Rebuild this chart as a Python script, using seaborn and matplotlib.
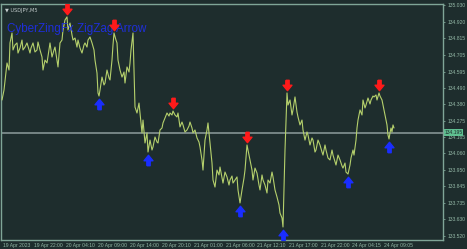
import matplotlib
matplotlib.use("Agg")
import matplotlib.pyplot as plt
from matplotlib.transforms import ScaledTranslation
import seaborn as sns
import pandas as pd

# ---- data ----
bar = [2, 4, 7, 9, 10, 12, 13, 15, 17, 18, 20, 22, 23, 25, 27, 30, 31, 33, 35, 37, 38, 40, 42, 43, 45, 47, 49, 50,
       52, 54, 55, 57, 58, 60, 62, 63, 65, 67, 68, 70, 72, 73, 75, 77, 78, 80, 82, 84, 85, 87, 88, 90, 92, 94, 95,
       97, 98, 99, 100, 102, 104, 105, 107, 109, 110, 112, 113, 114, 116, 117, 118, 120, 122, 124, 125, 127, 129,
       130, 131, 133, 134, 135, 137, 139, 140, 142, 143, 145, 147, 148, 150, 152, 153, 155, 157, 158, 160, 162,
       163, 165, 167, 169, 170, 172, 173, 175, 177, 178, 180, 182, 183, 185, 187, 189, 190, 192, 193, 195, 197,
       199, 200, 202, 203, 204, 205, 207, 208, 210, 212, 213, 215, 217, 219, 220, 222, 223, 225, 227, 229, 230,
       232, 233, 235, 237, 238, 240, 242, 244, 245, 247, 249, 250, 252, 253, 255, 257, 259, 260, 262, 263, 265,
       267, 268, 270, 272, 273, 275, 277, 279, 280, 282, 283, 285, 287, 288, 290, 292, 293, 295, 297, 298, 300,
       302, 303, 305, 307, 308, 310, 312, 313, 315, 316, 318, 320, 322, 323, 325, 326, 328, 330, 332, 333, 335,
       336, 338, 340, 342, 343, 345, 346, 348, 350, 351, 353, 354, 356, 357, 358, 360, 362, 363, 365, 366, 368,
       370, 371, 373, 374, 376, 377, 379, 380, 382, 383, 385, 386, 387, 388, 389, 390, 391, 392, 393, 394]
price = [134.409, 134.474, 134.651, 134.605, 134.782, 134.847, 134.736, 134.769, 134.782, 134.716, 134.749,
         134.801, 134.736, 134.755, 134.782, 134.716, 134.749, 134.782, 134.723, 134.736, 134.788, 134.736,
         134.690, 134.605, 134.670, 134.651, 134.736, 134.782, 134.690, 134.736, 134.755, 134.670, 134.625,
         134.782, 134.801, 134.867, 134.932, 134.952, 134.867, 134.912, 134.834, 134.801, 134.814, 134.755,
         134.801, 134.749, 134.716, 134.769, 134.782, 134.755, 134.801, 134.821, 134.782, 134.736, 134.670,
         134.585, 134.455, 134.435, 134.474, 134.559, 134.507, 134.520, 134.605, 134.553, 134.540, 134.670,
         134.769, 134.847, 134.801, 134.782, 134.670, 134.605, 134.559, 134.592, 134.520, 134.625, 134.592,
         134.651, 134.736, 134.847, 134.605, 134.363, 134.324, 134.389, 134.324, 134.194, 134.278, 134.128,
         134.194, 134.069, 134.147, 134.082, 134.102, 134.167, 134.134, 134.128, 134.213, 134.226, 134.259,
         134.291, 134.324, 134.304, 134.324, 134.311, 134.337, 134.311, 134.298, 134.324, 134.233, 134.265,
         134.246, 134.200, 134.213, 134.239, 134.265, 134.226, 134.194, 134.213, 134.161, 134.134, 134.102,
         134.017, 133.951, 134.049, 134.147, 134.213, 134.259, 134.128, 133.997, 133.886, 133.840, 133.951,
         133.919, 133.971, 133.899, 133.866, 133.938, 133.906, 133.853, 133.886, 133.912, 133.866, 133.886,
         133.906, 133.821, 133.736, 133.821, 133.899, 133.951, 134.115, 134.049, 134.017, 133.951, 133.886,
         133.964, 133.931, 133.853, 133.821, 133.919, 133.886, 133.853, 133.801, 133.886, 133.866, 133.938,
         133.906, 133.821, 133.775, 133.723, 133.670, 133.638, 133.579, 134.082, 134.455, 134.376, 134.409,
         134.311, 134.344, 134.429, 134.330, 134.298, 134.246, 134.278, 134.213, 134.147, 134.200, 134.180,
         134.115, 134.161, 134.147, 134.069, 134.082, 134.147, 134.115, 134.069, 134.049, 134.115, 134.082,
         134.030, 134.017, 134.082, 134.049, 134.004, 133.984, 134.049, 134.017, 133.978, 133.964, 133.997,
         133.938, 133.925, 133.984, 134.030, 134.082, 134.049, 134.147, 134.226, 134.278, 134.344, 134.311,
         134.409, 134.357, 134.376, 134.422, 134.383, 134.409, 134.435, 134.429, 134.442, 134.409, 134.455,
         134.435, 134.409, 134.376, 134.311, 134.278, 134.246, 134.180, 134.154, 134.194, 134.226, 134.200,
         134.246, 134.226]
swing_high_bars = [67, 114, 173, 247, 287, 379]
swing_low_bars = [99, 148, 240, 283, 348, 389]
current_price = 134.195
ytick_values = [135.030, 134.920, 134.815, 134.705, 134.595, 134.490, 134.380, 134.275, 134.165,
                134.060, 133.950, 133.845, 133.735, 133.630, 133.520]
xtick_bars = [3, 34, 66, 98, 130, 162, 194, 226, 257, 289, 321, 352, 384]
xtick_labels = ["19 Apr 2023", "19 Apr 22:00", "20 Apr 04:10", "20 Apr 09:00", "20 Apr 14:00",
                "20 Apr 20:10", "21 Apr 01:00", "21 Apr 06:00", "21 Apr 12:10", "21 Apr 17:00",
                "21 Apr 22:00", "24 Apr 04:15", "24 Apr 09:05"]

# ---- style ----
BG = "#1e2d2d"
FRAME = "#7fa597"
TXT = "#93b8a6"
LINE = "#b5d06c"

sns.set_theme(style="dark", rc={"axes.facecolor": BG, "figure.facecolor": BG})
plt.rcParams["font.family"] = ["Liberation Sans", "DejaVu Sans"]

fig = plt.figure(figsize=(4.67, 2.49), dpi=100)
ax = fig.add_axes([1 / 467, 9 / 249, 442 / 467, 236 / 249])
ax.set_facecolor(BG)

df = pd.DataFrame({"bar": bar, "price": price})
ax.axhline(current_price, color="#8d9c9c", lw=1.1, zorder=1)
sns.lineplot(data=df, x="bar", y="price", ax=ax, color=LINE, lw=0.8, zorder=3)

lookup = dict(zip(bar, price))
down = [(-0.32, 1), (0.32, 1), (0.32, 0.05), (0.85, 0.05), (0, -1), (-0.85, 0.05), (-0.32, 0.05), (-0.32, 1)]
up = [(x, -y) for x, y in down]
t_up = ax.transData + ScaledTranslation(0, 5.5 / 72, fig.dpi_scale_trans)
t_dn = ax.transData + ScaledTranslation(0, -5.5 / 72, fig.dpi_scale_trans)
ax.plot(swing_high_bars, [lookup[b] for b in swing_high_bars], ls="none", marker=down,
        ms=7.5, color="#ff1a1a", mec="#ff1a1a", transform=t_up, zorder=5)
ax.plot(swing_low_bars, [lookup[b] for b in swing_low_bars], ls="none", marker=up,
        ms=7.5, color="#1a2dff", mec="#1a2dff", transform=t_dn, zorder=5)

ax.set_xlim(1, 443)
px = 1.51 / 231
ax.set_ylim(133.520 - 4 * px, 135.030 + 1 * px)

ax.yaxis.tick_right()
ax.set_yticks(ytick_values)
ax.set_yticklabels([f"{v:.3f}" for v in ytick_values])
ax.set_xticks(xtick_bars)
ax.set_xticklabels(xtick_labels, ha="left")
ax.tick_params(axis="both", colors=FRAME, labelcolor=TXT, labelsize=3.6, length=1.5, width=0.6, pad=0.8)
ax.tick_params(axis="y", pad=1.5)
ax.set_xlabel("")
ax.set_ylabel("")
ax.grid(False)
for s in ax.spines.values():
    s.set_visible(True)
    s.set_color(FRAME)
    s.set_linewidth(1.0)

ax.text(1.003, current_price, f"{current_price:.3f}", transform=ax.get_yaxis_transform(),
        fontsize=3.6, color="#1e2d2d", va="center", ha="left",
        bbox=dict(boxstyle="square,pad=0.15", fc="#5fbf90", ec="none"), zorder=6, clip_on=False)

ax.text(0.008, 0.985, "▼ USDJPY,M5", transform=ax.transAxes, fontsize=3.6, color="#c3cccc",
        va="top", ha="left", family=["DejaVu Sans"])
ax.text(0.014, 0.895, "CyberZingFx ZigZag Arrow", transform=ax.transAxes, fontsize=8.4,
        color="#1f2fd8", va="center", ha="left")

fig.savefig("out.png", dpi=100, facecolor=BG)
